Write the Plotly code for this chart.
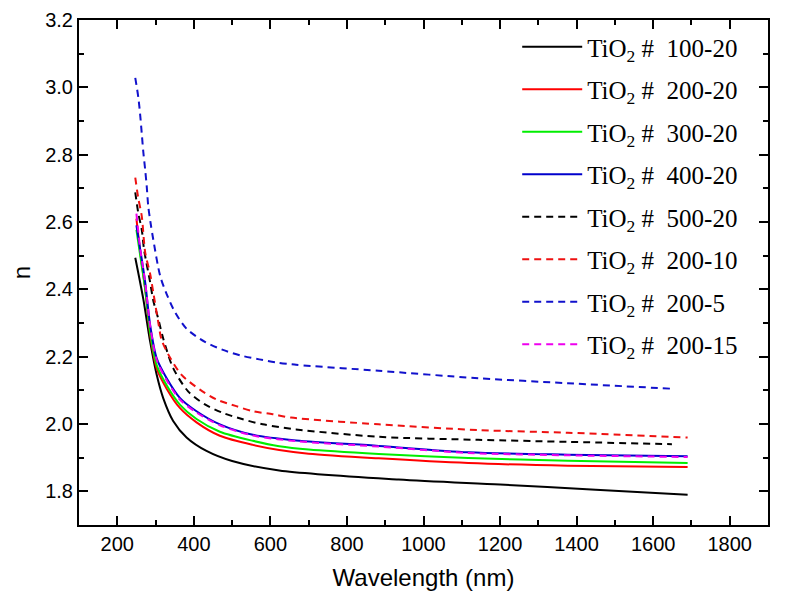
import plotly.graph_objects as go

# ---- data ----
names = ["TiO<sub>2</sub> #  100-20", "TiO<sub>2</sub> #  200-20", "TiO<sub>2</sub> #  300-20",
         "TiO<sub>2</sub> #  400-20", "TiO<sub>2</sub> #  500-20", "TiO<sub>2</sub> #  200-10",
         "TiO<sub>2</sub> #  200-5", "TiO<sub>2</sub> #  200-15"]

wl_100_20 = [247, 268, 286, 303, 320, 346, 381, 433, 500, 623, 935, 1200, 1450, 1690]
n_100_20 = [2.494, 2.371, 2.244, 2.146, 2.077, 2.009, 1.960, 1.920, 1.890, 1.862, 1.835, 1.820, 1.805, 1.790]

wl_200_20 = [250, 260, 273, 286, 303, 329, 364, 407, 468, 554, 623, 700, 883, 1117, 1377, 1690]
n_200_20 = [2.610, 2.510, 2.400, 2.265, 2.165, 2.105, 2.047, 2.005, 1.965, 1.938, 1.923, 1.912, 1.898, 1.884, 1.876, 1.872]

wl_300_20 = [250, 260, 273, 286, 303, 329, 364, 407, 468, 554, 623, 700, 883, 1117, 1377, 1690]
n_300_20 = [2.577, 2.500, 2.400, 2.270, 2.175, 2.115, 2.057, 2.015, 1.977, 1.950, 1.934, 1.924, 1.911, 1.899, 1.891, 1.884]

wl_400_20 = [250, 260, 273, 286, 303, 329, 364, 407, 468, 554, 667, 883, 1117, 1377, 1690]
n_400_20 = [2.590, 2.518, 2.420, 2.293, 2.195, 2.136, 2.077, 2.038, 1.999, 1.968, 1.951, 1.935, 1.916, 1.909, 1.904]

wl_500_20 = [247, 255, 264, 270, 286, 294, 307, 320, 346, 385, 429, 476, 528, 580, 667, 883, 1143, 1377, 1649]
n_500_20 = [2.688, 2.626, 2.577, 2.518, 2.420, 2.367, 2.313, 2.254, 2.166, 2.097, 2.058, 2.033, 2.014, 1.999, 1.984, 1.962, 1.953, 1.947, 1.940]

wl_200_10 = [247, 255, 264, 273, 286, 294, 307, 316, 338, 368, 416, 459, 511, 554, 606, 654, 883, 1143, 1377, 1690]
n_200_10 = [2.732, 2.670, 2.617, 2.509, 2.445, 2.391, 2.303, 2.249, 2.197, 2.146, 2.102, 2.073, 2.053, 2.038, 2.029, 2.019, 1.999, 1.982, 1.974, 1.960]

wl_200_5 = [247, 255, 260, 264, 268, 273, 277, 281, 287, 294, 312, 329, 351, 381, 429, 476, 524, 571, 619, 667, 883, 1143, 1377, 1645]
n_200_5 = [3.028, 2.970, 2.916, 2.862, 2.808, 2.754, 2.705, 2.646, 2.597, 2.548, 2.440, 2.386, 2.332, 2.283, 2.244, 2.220, 2.203, 2.192, 2.182, 2.176, 2.158, 2.136, 2.121, 2.105]

wl_200_15 = [250, 260, 273, 286, 303, 329, 364, 407, 468, 554, 667, 883, 1117, 1377, 1690]
n_200_15 = [2.625, 2.520, 2.420, 2.290, 2.190, 2.130, 2.072, 2.034, 1.996, 1.966, 1.949, 1.933, 1.914, 1.907, 1.902]

x_ticks = [200, 400, 600, 800, 1000, 1200, 1400, 1600, 1800]
y_ticks = [1.8, 2.0, 2.2, 2.4, 2.6, 2.8, 3.0, 3.2]

series = [
    (wl_100_20, n_100_20, "#000000", "solid"),
    (wl_200_20, n_200_20, "#ff0000", "solid"),
    (wl_300_20, n_300_20, "#00ee00", "solid"),
    (wl_400_20, n_400_20, "#0000cc", "solid"),
    (wl_500_20, n_500_20, "#000000", "7px,5px"),
    (wl_200_10, n_200_10, "#ee1111", "7px,5px"),
    (wl_200_5, n_200_5, "#1111cc", "7px,5px"),
    (wl_200_15, n_200_15, "#ee00ee", "7px,5px"),
]

fig = go.Figure()
for i, (xs, ys, col, dash) in enumerate(series):
    fig.add_trace(go.Scatter(
        x=xs, y=ys, mode="lines", name=names[i], legendgroup=str(i),
        line=dict(color=col, width=2, dash=dash, shape="spline", smoothing=0.8),
    ))

axis_common = dict(
    showline=True, linecolor="black", linewidth=2, mirror="ticks",
    ticks="inside", ticklen=9, tickwidth=2, tickcolor="black",
    showgrid=False, zeroline=False, automargin=False,
    ticklabeloverflow="allow",
    tickfont=dict(family="Liberation Sans, Arial", size=20, color="black"),
)

fig.update_xaxes(
    range=[100, 1900], tickvals=x_ticks, ticktext=[str(v) for v in x_ticks],
    minor=dict(ticks="inside", ticklen=5, tickwidth=2, tickcolor="black", dtick=100, tick0=0, showgrid=False),
    title=dict(text="Wavelength (nm)", font=dict(family="Liberation Sans, Arial", size=24, color="black")),
    **axis_common,
)
fig.update_yaxes(
    range=[1.7, 3.2], tickvals=y_ticks, ticktext=["%.1f" % v for v in y_ticks],
    minor=dict(ticks="inside", ticklen=5, tickwidth=2, tickcolor="black", dtick=0.1, tick0=0, showgrid=False),
    title=dict(text="n", font=dict(family="Liberation Sans, Arial", size=24, color="black")),
    **axis_common,
)

fig.update_layout(
    width=788, height=590,
    margin=dict(l=71, r=28, t=12, b=73),
    paper_bgcolor="white", plot_bgcolor="white",
    showlegend=True,
    legend=dict(
        x=0.636, y=0.992, xanchor="left", yanchor="top",
        bgcolor="rgba(0,0,0,0)", borderwidth=0,
        font=dict(family="Liberation Serif, Times New Roman", size=25, color="black"),
        tracegroupgap=7, itemwidth=60,
    ),
)

fig.write_html("out.html")
